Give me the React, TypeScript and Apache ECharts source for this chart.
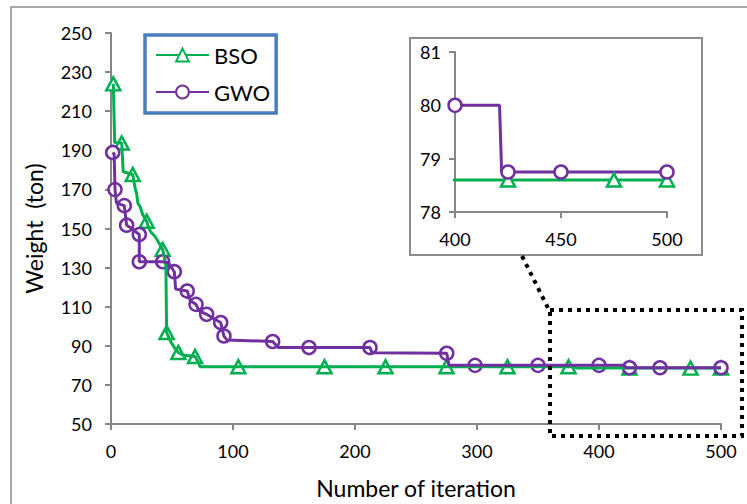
import React, { useEffect, useRef } from "react";
import * as echarts from "echarts";

// ---- data ----
// BSO convergence path (iteration, weight)
const bsoLineIter = [1.9, 3, 8.8, 10, 17.8, 20, 21, 22, 24, 26, 29.3, 31, 33, 36, 39, 42.4, 45, 45.6, 49, 52, 55.2, 58, 62, 68.9, 72, 73, 380, 381, 500];
const bsoLineWeight = [224, 194, 193.7, 179, 177.6, 170, 168, 163, 161, 157, 153.7, 150, 148, 146, 143, 139.3, 131, 96.8, 92, 89, 86.6, 85.5, 85, 84.5, 81, 79.3, 79.3, 78.6, 78.6];
// BSO marker points
const bsoMarkIter = [1.9, 8.8, 17.8, 29.3, 42.4, 45.6, 55.2, 68.9, 104.4, 175, 225, 275, 325, 375, 425, 475, 500];
const bsoMarkWeight = [224, 193.7, 177.6, 153.7, 139.3, 96.8, 86.6, 84.5, 79.3, 79.3, 79.3, 79.3, 79.3, 79.3, 78.6, 78.6, 78.6];

// GWO convergence path
const gwoLineIter = [1.4, 2.6, 3.3, 4.5, 10.9, 12.8, 17, 23.2, 23.2, 42.4, 47, 51.9, 53, 62.5, 65, 69.7, 72, 78.4, 84, 89.9, 92.6, 95, 132.5, 137, 162.3, 212.3, 214, 275.2, 277, 421, 422, 500];
const gwoLineWeight = [188.9, 188, 169.9, 163, 161.7, 151.7, 150, 146.9, 133, 133, 132.5, 127.9, 119, 118, 113, 111.2, 108, 106.1, 104, 101.9, 95, 93, 92.2, 89.1, 89.1, 89.1, 86.4, 86.2, 80, 80, 78.75, 78.75];
// GWO marker points
const gwoMarkIter = [1.4, 3.3, 10.9, 12.8, 23.2, 23.2, 42.4, 51.9, 62.5, 69.7, 78.4, 89.9, 92.6, 132.5, 162.3, 212.3, 275.2, 298.4, 350, 400, 425, 450, 500];
const gwoMarkWeight = [188.9, 169.9, 161.7, 151.7, 146.9, 133, 133, 127.9, 118, 111.2, 106.1, 101.9, 95, 92.2, 89.1, 89.1, 86.2, 80, 80, 80, 78.75, 78.75, 78.75];

const seriesNames = ["BSO", "GWO"];
const xTitle = "Number of iteration";
const yTitle = "Weight  (ton)";

const GREEN = "#00B050";
const PURPLE = "#7030A0";
const AXIS = "#868686";
const FONT = "Lato";

const zip = (xs: number[], ys: number[]) => xs.map((x, i) => [x, ys[i]]);
const inRange = (xs: number[], ys: number[], lo: number, hi: number) =>
  zip(xs, ys).filter((p) => p[0] >= lo && p[0] <= hi);

export default function App() {
  const ref = useRef<HTMLDivElement>(null);
  useEffect(() => {
    if (!ref.current) return;
    const chart = echarts.init(ref.current, null, { renderer: "svg" });

    const axisCommon = {
      axisLine: { show: true, lineStyle: { color: AXIS, width: 2 } },
      axisTick: { show: true, length: 6, lineStyle: { color: AXIS, width: 2 } },
      splitLine: { show: false },
      axisLabel: { color: "#000", fontFamily: FONT, fontSize: 18 },
    };

    const lineSeries = (name: string, data: number[][], color: string, symbol: string, xi: number, legend: boolean) => ({
      type: "line",
      name: legend ? name : name + "_inset",
      xAxisIndex: xi,
      yAxisIndex: xi,
      data,
      showSymbol: false,
      symbol,
      symbolSize: 12,
      lineStyle: { color, width: 3 },
      itemStyle: { color },
      clip: true,
      silent: true,
    });
    const markSeries = (name: string, data: number[][], color: string, symbol: string, size: any, xi: number) => ({
      type: "scatter",
      name: name + "_marks" + xi,
      xAxisIndex: xi,
      yAxisIndex: xi,
      data,
      symbol,
      symbolSize: size,
      itemStyle: { color: "#fff", borderColor: color, borderWidth: 2.5, opacity: 1 },
      clip: false,
      silent: true,
    });

    const option = {
      animation: false,
      backgroundColor: "#fff",
      textStyle: { fontFamily: FONT },
      legend: {
        data: seriesNames,
        orient: "vertical",
        left: 145,
        top: 35,
        padding: [9, 6, 10, 10],
        itemGap: 15,
        itemWidth: 53,
        itemHeight: 16,
        borderColor: "#4A7EBB",
        borderWidth: 3.5,
        backgroundColor: "#fff",
        textStyle: { fontFamily: FONT, fontSize: 22, color: "#000" },
        lineStyle: { width: 2 },
      },
      grid: [
        { left: 111, top: 33, width: 610, height: 392 },
        { left: 455, top: 52, width: 212, height: 160, z: 3 },
      ],
      xAxis: [
        {
          ...axisCommon,
          type: "value",
          gridIndex: 0,
          min: 0,
          max: 500,
          interval: 100,
          name: xTitle,
          nameLocation: "middle",
          nameGap: 52,
          nameTextStyle: { fontFamily: FONT, fontSize: 23, color: "#000" },
          axisLabel: { ...axisCommon.axisLabel, margin: 18 },
        },
        {
          ...axisCommon,
          type: "value",
          gridIndex: 1,
          min: 400,
          max: 500,
          interval: 50,
          axisLabel: { ...axisCommon.axisLabel, margin: 18 },
          z: 3,
        },
      ],
      yAxis: [
        {
          ...axisCommon,
          type: "value",
          gridIndex: 0,
          min: 50,
          max: 250,
          interval: 20,
          name: yTitle,
          nameLocation: "middle",
          nameGap: 66,
          nameTextStyle: { fontFamily: FONT, fontSize: 23, color: "#000" },
          axisLabel: { ...axisCommon.axisLabel, margin: 19 },
        },
        {
          ...axisCommon,
          type: "value",
          gridIndex: 1,
          min: 78,
          max: 81,
          interval: 1,
          axisLabel: { ...axisCommon.axisLabel, margin: 14 },
          z: 3,
        },
      ],
      graphic: [
        { type: "rect", z: -10, shape: { x: 11, y: 7, width: 800, height: 600 }, style: { fill: "none", stroke: "#8c8c8c", lineWidth: 1.5 } },
        { type: "rect", z: 1, shape: { x: 410, y: 38, width: 292, height: 217 }, style: { fill: "#fff", stroke: "#8c8c8c", lineWidth: 2 } },
        { type: "rect", z: 10, shape: { x: 550, y: 310, width: 192, height: 126 }, style: { fill: "none", stroke: "#000", lineWidth: 4, lineDash: [4, 5] } },
        { type: "line", z: 10, shape: { x1: 522, y1: 256, x2: 550, y2: 312 }, style: { stroke: "#000", lineWidth: 4, lineDash: [4, 5] } },
      ],
      series: [
        lineSeries("BSO", zip(bsoLineIter, bsoLineWeight), GREEN, "emptyTriangle", 0, true),
        markSeries("BSO", zip(bsoMarkIter, bsoMarkWeight), GREEN, "triangle", [14, 13], 0),
        lineSeries("GWO", zip(gwoLineIter, gwoLineWeight), PURPLE, "emptyCircle", 0, true),
        markSeries("GWO", zip(gwoMarkIter, gwoMarkWeight), PURPLE, "circle", 13, 0),
        { ...lineSeries("BSO", zip(bsoLineIter, bsoLineWeight), GREEN, "emptyTriangle", 1, false), z: 4 },
        { ...markSeries("BSO", inRange(bsoMarkIter, bsoMarkWeight, 400, 500), GREEN, "triangle", [14, 13], 1), z: 4 },
        { ...lineSeries("GWO", zip(gwoLineIter, gwoLineWeight), PURPLE, "emptyCircle", 1, false), z: 4 },
        { ...markSeries("GWO", inRange(gwoMarkIter, gwoMarkWeight, 400, 500), PURPLE, "circle", 13, 1), z: 4 },
      ],
    };
    chart.setOption(option as any);
    return () => chart.dispose();
  }, []);
  return (
    <div
      ref={ref}
      style={{ position: "fixed", left: 0, top: 0, width: 747, height: 504 }}
    />
  );
}
